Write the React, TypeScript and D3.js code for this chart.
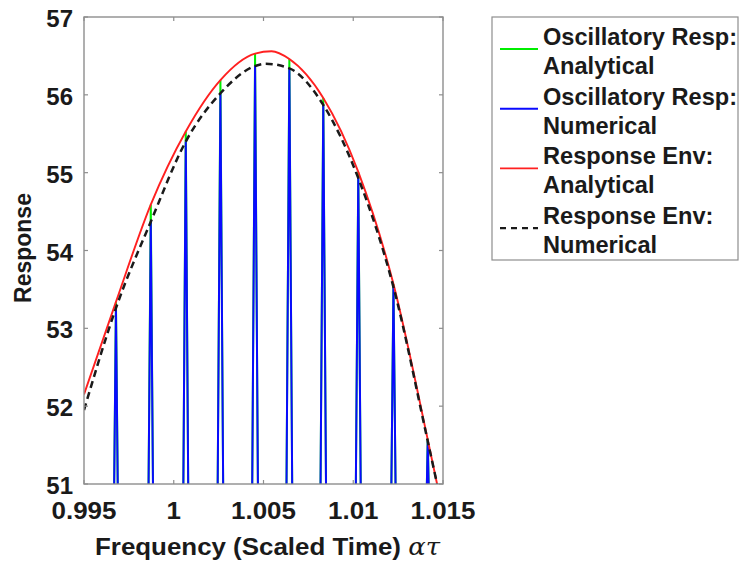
import React from "react";
import * as d3 from "d3";

// ---- data ----
const xTicks = [0.995, 1, 1.005, 1.01, 1.015];
const xTickLabels = ["0.995", "1", "1.005", "1.01", "1.015"];
const yTicks = [51, 52, 53, 54, 55, 56, 57];
const yTickLabels = ["51", "52", "53", "54", "55", "56", "57"];

// oscillation peaks (frequency of each spike)
const spikeFreq = [0.99678, 0.99872, 1.00067, 1.0026, 1.00453, 1.00644, 1.00833, 1.01028, 1.01224, 1.01415];
const analyticalPeak = [53.34, 54.59, 55.53, 56.19, 56.53, 56.46, 55.96, 55.01, 53.57, 51.58];
const numericalPeak = [53.26, 54.37, 55.4, 56.02, 56.37, 56.34, 55.87, 54.93, 53.53, 51.55];
// half-width of each spike where it crosses the bottom of the view (frequency units)
const spikeHalfWidth = [0.00009, 0.00011, 0.00012, 0.000135, 0.00014, 0.00014, 0.000135, 0.00012, 0.000105, 0.00005];

// response envelopes
const envAnaFreq = [0.995, 0.99678, 0.99872, 1.00067, 1.0026, 1.00453, 1.00545, 1.00644, 1.00833, 1.01028, 1.01224, 1.01415, 1.01467];
const envAnaVal = [52.15, 53.34, 54.59, 55.53, 56.19, 56.53, 56.56, 56.46, 55.96, 55.01, 53.57, 51.57, 51.0];
const envNumFreq = [0.995, 0.99678, 0.99872, 1.00067, 1.0026, 1.00453, 1.0051, 1.00644, 1.00833, 1.01028, 1.01224, 1.01415, 1.01467];
const envNumVal = [51.95, 53.26, 54.37, 55.4, 56.02, 56.37, 56.4, 56.34, 55.87, 54.93, 53.53, 51.55, 51.0];

const legendLabels = [
  ["Oscillatory Resp:", "Analytical"],
  ["Oscillatory Resp:", "Numerical"],
  ["Response Env:", "Analytical"],
  ["Response Env:", "Numerical"],
];

const W = 739;
const H = 562;
const M = { left: 84, right: 443, top: 17, bottom: 484 };
const FONT = "'Liberation Sans', Arial, Helvetica, sans-serif";
const GREEN = "#00ee00";
const BLUE = "#0a0aff";
const RED = "#ff2020";
const BLACK = "#1a1a1a";
const AXIS = "#8e8e8e";

export default function App() {
  const x = d3.scaleLinear().domain([0.995, 1.015]).range([M.left, M.right]);
  const y = d3.scaleLinear().domain([51, 57]).range([M.bottom, M.top]);

  const line = d3
    .line<[number, number]>()
    .x((d) => x(d[0]))
    .y((d) => y(d[1]));
  const curve = d3
    .line<[number, number]>()
    .x((d) => x(d[0]))
    .y((d) => y(d[1]))
    .curve(d3.curveMonotoneX);

  const spikePath = (peaks: number[]) =>
    spikeFreq
      .map((f, i) =>
        line([
          [f - spikeHalfWidth[i] * 1.15, 50.9],
          [f, peaks[i]],
          [f + spikeHalfWidth[i] * 1.15, 50.9],
        ])
      )
      .join(" ");

  const redPath = curve(envAnaFreq.map((f, i) => [f, envAnaVal[i]] as [number, number]));
  const blackPath = curve(envNumFreq.map((f, i) => [f, envNumVal[i]] as [number, number]));

  const tickLen = 4;
  const legendColors = [GREEN, BLUE, RED, BLACK];

  return (
    <svg
      width={W}
      height={H}
      style={{ position: "absolute", left: 0, top: 0, background: "#fff" }}
      fontFamily={FONT}
    >
      <defs>
        <clipPath id="plotClip">
          <rect x={M.left} y={M.top} width={M.right - M.left} height={M.bottom - M.top} />
        </clipPath>
      </defs>

      <g clipPath="url(#plotClip)">
        <path d={spikePath(analyticalPeak)} fill="none" stroke={GREEN} strokeWidth={2} />
        <path d={spikePath(numericalPeak)} fill="none" stroke={BLUE} strokeWidth={2} />
        <path d={redPath ?? ""} fill="none" stroke={RED} strokeWidth={1.9} />
        <path d={blackPath ?? ""} fill="none" stroke={BLACK} strokeWidth={2.5} strokeDasharray="7,4.5" />
      </g>

      {/* axes box */}
      <rect
        x={M.left}
        y={M.top}
        width={M.right - M.left}
        height={M.bottom - M.top}
        fill="none"
        stroke={AXIS}
        strokeWidth={1.4}
      />
      {xTicks.map((t, i) => (
        <g key={"xt" + i}>
          <line x1={x(t)} x2={x(t)} y1={M.bottom} y2={M.bottom - tickLen} stroke={AXIS} strokeWidth={1.2} />
          <line x1={x(t)} x2={x(t)} y1={M.top} y2={M.top + tickLen} stroke={AXIS} strokeWidth={1.2} />
          <text
            transform={`translate(${x(t)},519) scale(1.06,1)`}
            textAnchor="middle"
            fontSize={24.5}
            fontWeight="bold"
            fill={BLACK}
          >
            {xTickLabels[i]}
          </text>
        </g>
      ))}
      {yTicks.map((t, i) => (
        <g key={"yt" + i}>
          <line x1={M.left} x2={M.left + tickLen} y1={y(t)} y2={y(t)} stroke={AXIS} strokeWidth={1.2} />
          <line x1={M.right} x2={M.right - tickLen} y1={y(t)} y2={y(t)} stroke={AXIS} strokeWidth={1.2} />
          <text
            x={73}
            y={y(t) + 10}
            textAnchor="end"
            fontSize={24}
            fontWeight="bold"
            fill={BLACK}
          >
            {yTickLabels[i]}
          </text>
        </g>
      ))}

      {/* axis labels */}
      <text
        x={95}
        y={555}
        textAnchor="start"
        fontSize={24}
        fontWeight="bold"
        fill={BLACK}
        textLength={345}
        lengthAdjust="spacingAndGlyphs"
      >
        Frequency (Scaled Time){" "}
        <tspan fontFamily="'DejaVu Serif', 'Liberation Serif', serif" fontStyle="italic" fontWeight="normal">
          ατ
        </tspan>
      </text>
      <text
        transform={`translate(31,248) rotate(-90)`}
        textAnchor="middle"
        fontSize={23}
        fontWeight="bold"
        fill={BLACK}
      >
        Response
      </text>

      {/* legend */}
      <rect x={492} y={17} width={246} height={243} fill="#fff" stroke={AXIS} strokeWidth={1.2} />
      {legendLabels.map((lab, i) => {
        const base = 45 + 59.5 * i;
        const ly = 49 + 59.7 * i;
        return (
          <g key={"lg" + i}>
            <line
              x1={500}
              x2={538}
              y1={ly}
              y2={ly}
              stroke={legendColors[i]}
              strokeWidth={i === 3 ? 2.2 : 1.9}
              strokeDasharray={i === 3 ? "6,5" : undefined}
            />
            <text x={543} y={base} fontSize={23.6} fontWeight="bold" fill={BLACK}>
              {lab[0]}
            </text>
            <text x={543} y={base + 29} fontSize={23.6} fontWeight="bold" fill={BLACK}>
              {lab[1]}
            </text>
          </g>
        );
      })}
    </svg>
  );
}
